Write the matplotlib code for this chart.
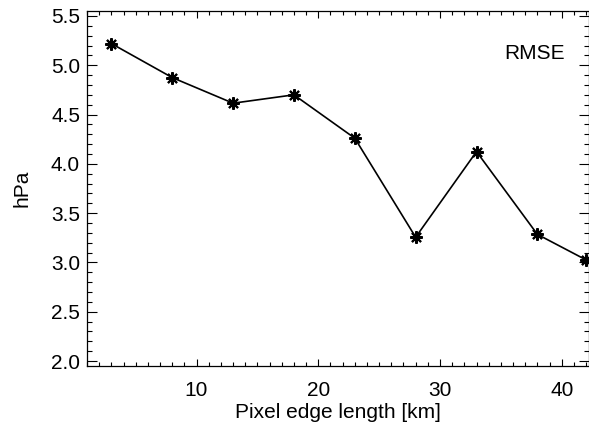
"""RMSE against pixel edge length, IDL-style line plot."""

import matplotlib
matplotlib.use("Agg")
import matplotlib.pyplot as plt
from matplotlib.ticker import MultipleLocator

plt.rcParams["font.family"] = ["Liberation Sans", "DejaVu Sans"]

edge_km = [3, 8, 13, 18, 23, 28, 33, 38, 42]
rmse_hpa = [5.22, 4.875, 4.615, 4.70, 4.26, 3.256, 4.124, 3.285, 3.026]

fig = plt.figure(figsize=(5.89, 4.26), dpi=100)
ax = fig.add_axes([87 / 589, 1 - 366 / 426, 501.5 / 589, 355 / 426])

ax.plot(edge_km, rmse_hpa, color="black", linewidth=1.2, clip_on=False)
ax.plot(edge_km, rmse_hpa, linestyle="none", marker=(8, 2, 0), markersize=9,
        markeredgewidth=1.5, color="black", clip_on=False)

ax.set_xlim(1, 42.2)
ax.set_ylim(1.95, 5.55)
ax.xaxis.set_major_locator(MultipleLocator(10))
ax.xaxis.set_minor_locator(MultipleLocator(1))
ax.yaxis.set_major_locator(MultipleLocator(0.5))
ax.yaxis.set_minor_locator(MultipleLocator(0.1))
ax.yaxis.set_major_formatter(plt.FormatStrFormatter("%.1f"))

ax.tick_params(which="both", direction="in", top=True, right=True,
               width=0.8, labelsize=15, color="black")
ax.tick_params(axis="x", which="major", length=5, pad=11)
ax.tick_params(axis="x", which="minor", length=2.6)
ax.tick_params(axis="y", which="major", length=7.2, pad=5)
ax.tick_params(axis="y", which="minor", length=3.6)
for spine in ax.spines.values():
    spine.set_linewidth(0.9)

ax.set_xlabel("Pixel edge length [km]", fontsize=15, labelpad=2)
ax.set_ylabel("hPa", fontsize=15, labelpad=14)
ax.text(0.953, 0.879, "RMSE", transform=ax.transAxes, ha="right",
        va="center", fontsize=15)

fig.savefig("out.png", dpi=100)
